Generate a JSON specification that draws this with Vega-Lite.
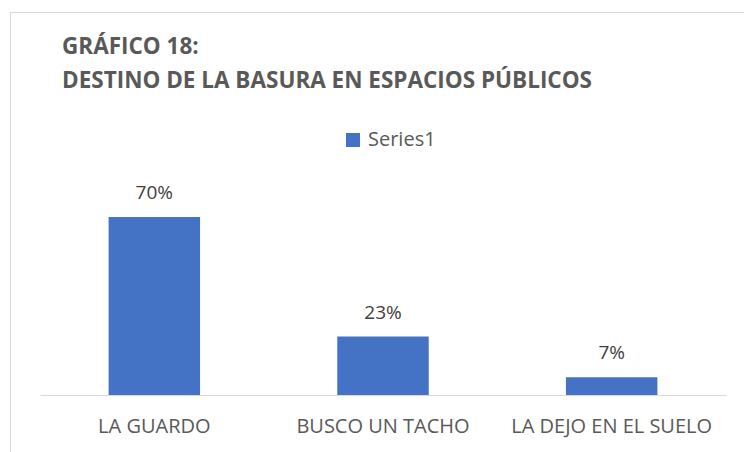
{
  "$schema": "https://vega.github.io/schema/vega-lite/v6.json",
  "autosize": "none",
  "width": 734,
  "height": 440,
  "padding": {"left": 10, "top": 12, "right": 0, "bottom": 0},
  "background": "white",
  "title": {
    "text": ["GRÁFICO 18:", "DESTINO DE LA BASURA EN ESPACIOS PÚBLICOS"],
    "anchor": "start",
    "frame": "group",
    "dx": 52,
    "offset": -80,
    "font": "Open Sans",
    "fontSize": 22.5,
    "fontWeight": "bold",
    "color": "#595959",
    "lineHeight": 34
  },
  "data": {
    "values": [
      {"destino": "LA GUARDO", "pct": 0.70, "serie": "Series1"},
      {"destino": "BUSCO UN TACHO", "pct": 0.23, "serie": "Series1"},
      {"destino": "LA DEJO EN EL SUELO", "pct": 0.07, "serie": "Series1"}
    ]
  },
  "encoding": {
    "x": {
      "field": "destino",
      "type": "nominal",
      "sort": null,
      "scale": {"range": [30, 716], "paddingInner": 0.6, "paddingOuter": 0.3},
      "axis": {
        "title": null,
        "offset": -57,
        "labelAngle": 0,
        "labelFont": "Open Sans",
        "labelFontSize": 20,
        "labelColor": "#595959",
        "labelPadding": 21,
        "labelLimit": 0,
        "ticks": false,
        "domainColor": "#d9d9d9",
        "domainWidth": 1
      }
    },
    "y": {
      "field": "pct",
      "type": "quantitative",
      "scale": {"domain": [0, 0.7], "range": [383, 205], "nice": false, "zero": true},
      "axis": null
    }
  },
  "layer": [
    {
      "mark": {"type": "bar"},
      "encoding": {
        "color": {
          "field": "serie",
          "type": "nominal",
          "scale": {"range": ["#4472C4"]},
          "legend": {
            "title": null,
            "orient": "none",
            "legendX": 333,
            "legendY": 118,
            "symbolType": "square",
            "symbolSize": 196,
            "symbolStrokeWidth": 0,
            "labelFont": "Open Sans",
            "labelFontSize": 20,
            "labelColor": "#595959",
            "labelOffset": 5
          }
        }
      }
    },
    {
      "mark": {"type": "text", "baseline": "bottom", "dy": -14, "font": "Open Sans", "fontSize": 19, "color": "#404040"},
      "encoding": {
        "text": {"field": "pct", "type": "quantitative", "format": ".0%"}
      }
    }
  ],
  "config": {
    "view": {"stroke": "#d9d9d9", "strokeWidth": 1},
    "axis": {"grid": false}
  }
}
